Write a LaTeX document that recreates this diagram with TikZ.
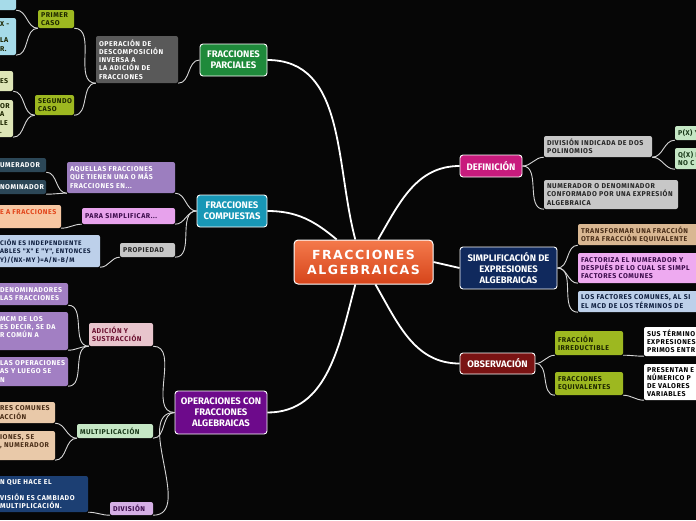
\documentclass[tikz,border=0pt]{standalone}
\usepackage{fontspec}
\setmainfont{Fira Sans}
\newfontfamily\leafface{Fira Sans}[LetterSpace=8]
\newfontfamily\rootface{DejaVu Sans}[LetterSpace=12]
\usetikzlibrary{positioning}

\newcommand\leaffont{\leafface\bfseries\fontsize{7}{8.2}\selectfont}
\newcommand\smallleaffont{\leafface\bfseries\fontsize{6.6}{8.6}\selectfont}
\newcommand\titlefont{\bfseries\fontsize{9.5}{11}\selectfont}
\newcommand\rootfont{\rootface\bfseries\fontsize{12.5}{15}\selectfont}

\definecolor{mapbg}{HTML}{060606}
\definecolor{linkgray}{HTML}{D6D6D6}
\definecolor{rootA}{HTML}{F47A4C}
\definecolor{rootB}{HTML}{D6441A}
\definecolor{parcialc}{HTML}{1F8A3B}
\definecolor{compc}{HTML}{1897B6}
\definecolor{operc}{HTML}{6D0A8B}
\definecolor{defc}{HTML}{C81B7D}
\definecolor{simpc}{HTML}{10295D}
\definecolor{obsc}{HTML}{7A1313}
\definecolor{darkgrey}{HTML}{595959}
\definecolor{olive}{HTML}{9DB820}
\definecolor{olivetxt}{HTML}{1D2600}
\definecolor{skyleaf}{HTML}{A6DBE9}
\definecolor{paleleaf}{HTML}{DDE5B6}
\definecolor{lavender}{HTML}{9C7EBF}
\definecolor{slate}{HTML}{2C4757}
\definecolor{orchid}{HTML}{E7A2EC}
\definecolor{orchidtxt}{HTML}{3B0B4B}
\definecolor{peach}{HTML}{F7C7A2}
\definecolor{peachtxt}{HTML}{E2461C}
\definecolor{lightgrey}{HTML}{C7C7C7}
\definecolor{icebox}{HTML}{BDD0EA}
\definecolor{icetxt}{HTML}{102040}
\definecolor{rosebox}{HTML}{E8C5CD}
\definecolor{rosetxt}{HTML}{6B1030}
\definecolor{lavender2}{HTML}{A27FC3}
\definecolor{mint}{HTML}{C5E7C5}
\definecolor{minttxt}{HTML}{183818}
\definecolor{tan}{HTML}{E9C9A9}
\definecolor{tantxt}{HTML}{4A2E18}
\definecolor{lilac}{HTML}{D5AFE5}
\definecolor{navyleaf}{HTML}{1C3F73}
\definecolor{sand}{HTML}{D9B792}
\definecolor{pinkleaf}{HTML}{EEAAF0}

\begin{document}
\begin{tikzpicture}[
      x=1pt, y=-1pt,
      topic/.style={draw=white, line width=0.9pt, rounded corners=3pt,
                    text=white, align=center, font=\titlefont, inner sep=1pt},
      leaf/.style={rounded corners=2pt, inner xsep=3pt, inner ysep=1pt,
                   align=left, font=\leaffont},
      link/.style={draw=linkgray, line width=0.9pt},
      mainlink/.style={draw=white, line width=1.8pt}
  ]
      \useasboundingbox (0,0) rectangle (696,520);
      \fill[mapbg] (0,0) rectangle (696,520);
      \clip (0,0) rectangle (696,520);

      % Centro
      \node[draw=white, line width=1pt, rounded corners=4pt, top color=rootA,
            bottom color=rootB, minimum width=139pt, minimum height=44pt,
            text=white, font=\rootfont, align=center] (root) at (363.5,262)
            {FRACCIONES\\ALGEBRAICAS};

      % Ramas principales
      \node[topic, fill=parcialc, minimum width=67pt, minimum height=32pt] (parcial) at (233.5,60) {FRACCIONES\\PARCIALES};
      \node[topic, fill=compc, minimum width=70pt, minimum height=32pt] (compuesta) at (232,211) {FRACCIONES\\COMPUESTAS};
      \node[topic, fill=operc, minimum width=92pt, minimum height=43pt] (operac) at (221,412.5) {OPERACIONES CON\\FRACCIONES\\ALGEBRAICAS};
      \node[topic, fill=defc, minimum width=62pt, minimum height=22pt] (definic) at (491,166) {DEFINICIÓN};
      \node[topic, fill=simpc, minimum width=97pt, minimum height=42pt] (simplif) at (508.5,268) {SIMPLIFICACIÓN DE\\EXPRESIONES\\ALGEBRAICAS};
      \node[topic, fill=obsc, minimum width=75pt, minimum height=21pt] (observ) at (497.5,363.5) {OBSERVACIÓN};

      % Fracciones parciales
      \node[leaf, fill=darkgrey, text=white, text width=76pt, minimum height=47pt] (opinv) at (137,59.5)
          {OPERACIÓN DE\\DESCOMPOSICIÓN\\INVERSA A\\LA ADICIÓN DE\\FRACCIONES};
      \node[leaf, fill=olive, text=olivetxt, text width=30pt, minimum height=18pt] (primer) at (56,19) {PRIMER\\CASO};
      \node[leaf, fill=olive, text=olivetxt, text width=33pt, minimum height=20pt] (segundo) at (54.5,105) {SEGUNDO\\CASO};
      \node[leaf, fill=skyleaf, text width=13pt, minimum height=20pt] (prA) at (6.5,0) {};
      \node[leaf, fill=skyleaf, text=olivetxt, text width=13pt, minimum height=37pt] (prB) at (6.5,36.5) {X -\\\mbox{}\\LA\\R.};
      \node[leaf, fill=paleleaf, text=olivetxt, text width=10pt, minimum height=20pt] (sgA) at (5,81) {ES};
      \node[leaf, fill=paleleaf, text=olivetxt, text width=10pt, minimum height=37pt] (sgB) at (5,118.5) {OR\\A\\LE\\.};

      % Fracciones compuestas
      \node[leaf, fill=lavender, text=white, text width=102pt, minimum height=31pt] (aquellas) at (121,177.5)
          {AQUELLAS FRACCIONES\\QUE TIENEN UNA O MÁS\\FRACCIONES EN...};
      \node[leaf, fill=slate, text=white, text width=43pt, minimum height=14pt] (numer) at (21.5,165) {UMERADOR};
      \node[leaf, fill=slate, text=white, text width=43pt, minimum height=14pt] (denom) at (21.5,187) {NOMINADOR};
      \node[leaf, fill=orchid, text=orchidtxt, text width=87pt, minimum height=16pt] (parasimp) at (128.5,216) {PARA SIMPLIFICAR...};
      \node[leaf, fill=peach, text=peachtxt, text width=58pt, minimum height=23pt] (conv) at (29,216.5) {\mbox{E A FRACCIONES}\\\mbox{}};
      \node[leaf, fill=lightgrey, text=black!85, text width=49pt, minimum height=14pt] (propiedad) at (147.5,250) {PROPIEDAD};
      \node[leaf, fill=icebox, text=icetxt, font=\smallleaffont, text width=97pt, minimum height=32pt] (indep) at (48.5,251)
          {\mbox{CIÓN ES INDEPENDIENTE}\\\mbox{ABLES "X" E "Y", ENTONCES}\\\mbox{Y)/(NX-MY )=A/N-B/M}};

      % Operaciones
      \node[leaf, fill=rosebox, text=rosetxt, text width=58pt, minimum height=23pt] (adicion) at (121,334.5) {ADICIÓN Y\\SUSTRACCIÓN};
      \node[leaf, fill=lavender2, text=white, text width=65pt, minimum height=22pt] (adA) at (32.5,294) {DENOMINADORES\\\mbox{LAS FRACCIONES}};
      \node[leaf, fill=lavender2, text=white, text width=65pt, minimum height=38pt] (adB) at (32.5,331) {MCM DE LOS\\\mbox{ES DECIR, SE DA}\\R COMÚN A\\\mbox{}};
      \node[leaf, fill=lavender2, text=white, text width=65pt, minimum height=29pt] (adC) at (32.5,371.5) {\mbox{LAS OPERACIONES}\\AS Y LUEGO SE\\N};
      \node[leaf, fill=mint, text=minttxt, text width=70pt, minimum height=14pt] (multip) at (115,431) {MULTIPLICACIÓN};
      \node[leaf, fill=tan, text=tantxt, text width=52pt, minimum height=21pt] (muA) at (26,412.5) {RES COMUNES\\ACCIÓN};
      \node[leaf, fill=tan, text=tantxt, text width=52pt, minimum height=29pt] (muB) at (26,445.5) {IONES, SE\\\mbox{, NUMERADOR}\\\mbox{}};
      \node[leaf, fill=lilac, text=orchidtxt, text width=37pt, minimum height=13pt] (divis) at (131.5,508.5) {DIVISIÓN};
      \node[leaf, fill=navyleaf, text=white, text width=85pt, minimum height=36pt] (diA) at (42.5,494)
          {N QUE HACE EL\\\mbox{}\\\mbox{VISIÓN ES CAMBIADO}\\MULTIPLICACIÓN.};

      % Definicion
      \node[leaf, fill=lightgrey, text=black!85, text width=102pt, minimum height=21pt] (divind) at (598,146.5)
          {\mbox{DIVISIÓN INDICADA DE DOS}\\POLINOMIOS};
      \node[leaf, fill=lightgrey, text=black!85, text width=128pt, minimum height=29pt] (numexp) at (611,194.5)
          {\mbox{NUMERADOR O DENOMINADOR}\\\mbox{CONFORMADO POR UNA EXPRESIÓN}\\ALGEBRAICA};
      \node[leaf, fill=mint, text=minttxt, text width=44pt, minimum height=14pt] (px) at (700,133) {P(X) Y};
      \node[leaf, fill=mint, text=minttxt, text width=44pt, minimum height=21pt] (qx) at (700,158.5) {Q(X) F\\NO C};

      % Simplificacion
      \node[leaf, fill=sand, text=tantxt, text width=156pt, minimum height=21pt] (transf) at (659,234.5)
          {TRANSFORMAR UNA FRACCIÓN\\OTRA FRACCIÓN EQUIVALENTE};
      \node[leaf, fill=pinkleaf, text=orchidtxt, text width=156pt, minimum height=30pt] (factoriza) at (659,268)
          {FACTORIZA EL NUMERADOR Y\\DESPUÉS DE LO CUAL SE SIMPL\\FACTORES COMUNES};
      \node[leaf, fill=icebox, text=icetxt, text width=156pt, minimum height=21pt] (factcom) at (659,301.5)
          {LOS FACTORES COMUNES, AL SI\\EL MCD DE LOS TÉRMINOS DE};

      % Observacion
      \node[leaf, fill=olive, text=olivetxt, text width=62pt, minimum height=24pt] (irred) at (589,343) {FRACCIÓN\\IRREDUCTIBLE};
      \node[leaf, fill=olive, text=olivetxt, text width=62pt, minimum height=23pt] (equiv) at (589,383.5) {FRACCIONES\\EQUIVALENTES};
      \node[leaf, fill=white, text=black, text width=90pt, minimum height=29pt] (irtxt) at (692,341.5)
          {SUS TÉRMINO\\EXPRESIONES\\PRIMOS ENTR};
      \node[leaf, fill=white, text=black, text width=90pt, minimum height=36pt] (eqtxt) at (692,382)
          {PRESENTAN E\\NÚMERICO P\\DE VALORES\\VARIABLES};

      % Conectores principales
      \draw[mainlink] (root.110) to[out=105, in=0] (parcial.east);
      \draw[mainlink] (root.140) to[out=140, in=0] (compuesta.east);
      \draw[mainlink] (root.250) to[out=255, in=0] (operac.east);
      \draw[mainlink] (root.57) to[out=60, in=180] (definic.west);
      \draw[mainlink] (root.east) -- (simplif.west);
      \draw[mainlink] (root.-62) to[out=-60, in=180] (observ.west);

      % Conectores secundarios
      \draw[link] (parcial.west) to[out=180, in=0] (opinv.south east);
      \draw[link] (opinv.south west) to[out=180, in=0] (primer.south east);
      \draw[link] (opinv.south west) to[out=180, in=0] (segundo.south east);
      \draw[link] (primer.south west) to[out=180, in=0] (prA.south east);
      \draw[link] (primer.south west) to[out=180, in=0] (prB.south east);
      \draw[link] (segundo.south west) to[out=180, in=0] (sgA.south east);
      \draw[link] (segundo.south west) to[out=180, in=0] (sgB.south east);

      \draw[link] (compuesta.west) to[out=180, in=0] (aquellas.south east);
      \draw[link] (compuesta.west) to[out=180, in=0] (parasimp.south east);
      \draw[link] (compuesta.west) to[out=180, in=0] (propiedad.south east);
      \draw[link] (aquellas.south west) to[out=180, in=0] (numer.south east);
      \draw[link] (aquellas.south west) to[out=180, in=0] (denom.south east);
      \draw[link] (parasimp.south west) to[out=180, in=0] (conv.south east);
      \draw[link] (propiedad.south west) to[out=180, in=0] (indep.south east);

      \draw[link] (operac.west) to[out=180, in=0] (adicion.south east);
      \draw[link] (operac.west) to[out=180, in=0] (multip.south east);
      \draw[link] (operac.west) to[out=180, in=0] (divis.south east);
      \draw[link] (adicion.south west) to[out=180, in=0] (adA.south east);
      \draw[link] (adicion.south west) to[out=180, in=0] (adB.south east);
      \draw[link] (adicion.south west) to[out=180, in=0] (adC.south east);
      \draw[link] (multip.south west) to[out=180, in=0] (muA.south east);
      \draw[link] (multip.south west) to[out=180, in=0] (muB.south east);
      \draw[link] (divis.south west) to[out=180, in=0] (diA.south east);

      \draw[link] (definic.east) to[out=0, in=180] (divind.south west);
      \draw[link] (definic.east) to[out=0, in=180] (numexp.south west);
      \draw[link] (divind.south east) to[out=0, in=180] (px.south west);
      \draw[link] (divind.south east) to[out=0, in=180] (qx.south west);
      \draw[link] (simplif.east) to[out=0, in=180] (transf.south west);
      \draw[link] (simplif.east) to[out=0, in=180] (factoriza.south west);
      \draw[link] (simplif.east) to[out=0, in=180] (factcom.south west);
      \draw[link] (observ.east) to[out=0, in=180] (irred.south west);
      \draw[link] (observ.east) to[out=0, in=180] (equiv.south west);
      \draw[link] (irred.south east) to[out=0, in=180] (irtxt.south west);
      \draw[link] (equiv.south east) to[out=0, in=180] (eqtxt.south west);
  \end{tikzpicture}
\end{document}
